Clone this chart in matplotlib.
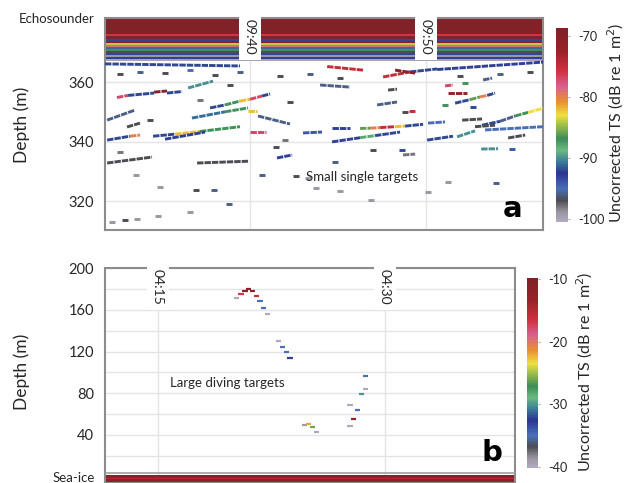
import matplotlib.pyplot as plt
from matplotlib.collections import LineCollection
from matplotlib.colors import LinearSegmentedColormap, Normalize
from matplotlib.cm import ScalarMappable

plt.rcParams['font.family'] = ['Lato', 'DejaVu Sans']
plt.rcParams['axes.unicode_minus'] = False

# echogram colour scale, low TS -> high TS
ts_stops = [0.0, 0.05, 0.11, 0.17, 0.25, 0.31, 0.37, 0.43, 0.50, 0.55, 0.62, 0.70, 0.78, 0.88, 1.0]
ts_colors = ['#b2a8c4', '#9a96a0', '#4c4c52', '#4a70b8', '#2c3490', '#3a7c9a', '#6cb880',
             '#3c8c58', '#a0c048', '#f0e040', '#e89030', '#d86090', '#d03040', '#9a2228', '#7e2228']

# ---- panel a: small single targets (time = minutes after 09:00, depth in m)
a_time_ticks = [40, 50]
a_time_labels = ['09:40', '09:50']
a_depth_ticks = [320, 340, 360]

# near-surface echosounder band: layer edges (m) and TS of each layer
band_edges = [382, 376, 375.3, 374.6, 373.9, 373.2, 372.5, 371.8, 371.1, 370.4, 369.7, 369.0, 368.3, 367.6, 366.9]
band_ts = [-69, -76, -69, -92, -71, -84, -79, -91, -87, -97, -92, -99, -93, -100]

# target tracks: start time/depth, end time/depth, TS
trk_t0 = [32.44, 33.07, 34.55, 35.28, 31.88, 33.01, 31.88, 33.18, 34.49, 35.74, 37.16, 35.17,
          36.70, 38.58, 39.89, 37.73, 38.58, 39.43, 40.00, 40.68, 31.88, 36.99, 41.53, 36.48,
          40.45, 40.00, 43.01, 44.66, 44.66, 46.25, 47.10, 46.25, 46.82, 47.39, 48.24, 48.81,
          44.38, 47.56, 49.09, 48.24, 47.22, 51.65, 52.50, 53.07, 53.47, 51.25, 51.08, 53.18,
          54.20, 55.06, 55.80, 53.35, 51.76, 50.06, 50.11, 52.05, 52.78, 53.13, 48.69, 54.66,
          53.24, 43.98, 47.84, 31.76, 50.63]
trk_d0 = [354.8, 355.5, 356.6, 356.3, 347.2, 344.9, 340.5, 341.8, 341.8, 342.5, 343.4, 340.8,
          347.9, 350.0, 350.4, 351.3, 352.3, 353.6, 354.2, 355.3, 332.8, 332.8, 334.5, 358.0,
          348.6, 343.2, 342.9, 344.5, 339.9, 341.3, 342.0, 344.4, 344.5, 344.7, 345.0, 345.2,
          365.2, 361.7, 363.4, 364.0, 352.3, 352.9, 354.1, 355.0, 355.5, 356.3, 358.7, 345.5,
          346.8, 348.6, 349.8, 343.9, 341.6, 340.5, 346.2, 347.2, 345.0, 337.5, 335.5, 341.2,
          360.7, 359.0, 357.3, 366.1, 364.2]
trk_t1 = [33.07, 34.55, 35.28, 36.14, 33.47, 33.75, 33.18, 33.75, 35.74, 37.16, 39.43, 37.44,
          38.58, 39.89, 40.40, 38.58, 39.43, 40.00, 40.68, 41.14, 34.43, 39.89, 42.39, 37.90,
          42.27, 40.91, 44.09, 45.68, 46.25, 47.10, 48.52, 46.82, 47.39, 48.24, 48.81, 49.83,
          46.42, 49.09, 50.63, 49.38, 48.35, 52.50, 53.07, 53.47, 53.92, 52.33, 51.53, 54.20,
          55.06, 55.80, 56.65, 56.65, 52.78, 51.53, 51.08, 53.18, 53.92, 54.09, 49.38, 55.63,
          53.75, 45.68, 48.35, 39.43, 56.65]
trk_d1 = [355.5, 356.3, 357.0, 356.8, 350.6, 346.2, 341.8, 342.2, 342.5, 343.4, 345.0, 343.2,
          350.0, 351.3, 350.4, 352.3, 353.6, 354.2, 355.3, 356.0, 334.8, 333.4, 335.5, 360.3,
          345.9, 343.2, 343.2, 344.5, 341.3, 342.0, 343.2, 344.5, 344.7, 345.0, 345.2, 345.8,
          364.0, 363.4, 364.4, 363.0, 353.3, 354.1, 355.0, 355.5, 356.3, 356.3, 359.0, 346.8,
          348.6, 349.8, 351.2, 345.0, 343.6, 341.8, 346.6, 347.6, 345.5, 337.6, 335.8, 342.2,
          361.3, 358.3, 357.6, 365.4, 366.7]
trk_ts = [-77, -92, -70, -92, -96, -97, -92, -80, -92, -82, -87, -93,
          -91, -87, -82, -92, -87, -82, -77, -92, -97, -97, -93, -90,
          -96, -77, -94, -93, -93, -88, -92, -86, -80, -75, -82, -92,
          -75, -75, -92, -70, -96, -92, -86, -80, -92, -72, -77, -92,
          -96, -87, -83, -95, -90, -92, -95, -97, -97, -90, -98, -97,
          -96, -96, -97, -92, -93]

# isolated single pings
ping_t = [49.20, 48.81, 52.22, 51.08, 52.67, 48.64, 54.89, 46.99, 32.16, 32.90, 33.58, 34.77,
          36.59, 36.93, 37.95, 38.81, 40.68, 42.61, 43.30, 43.75, 44.83, 45.11, 46.88, 50.11,
          51.25, 53.98, 41.48, 41.99, 33.52, 34.89, 32.61, 34.32, 37.16, 38.86, 42.27, 32.61,
          33.75, 35.17, 36.59, 38.01, 39.43, 41.70, 43.41, 45.11, 51.93, 54.20, 55.91]
ping_d = [350.35, 350.0, 359.8, 352.3, 351.7, 337.1, 337.5, 337.1, 312.9, 313.6, 313.9, 315.0,
          316.3, 323.7, 323.7, 319.0, 328.7, 328.4, 327.7, 324.4, 333.1, 323.4, 320.3, 323.0,
          326.4, 326.1, 338.2, 340.5, 328.7, 324.7, 336.5, 347.2, 354.0, 359.0, 353.3, 362.7,
          363.4, 363.0, 364.0, 362.4, 363.4, 362.0, 362.7, 361.3, 362.0, 362.7, 363.4]
ping_ts = [-75, -97, -87, -87, -92, -92, -94, -97, -99, -97, -99, -99,
           -99, -97, -96, -96, -96, -97, -99, -99, -96, -99, -99, -99,
           -99, -96, -97, -98, -99, -99, -98, -97, -98, -97, -97, -97,
           -96, -97, -95, -97, -96, -97, -96, -97, -97, -96, -97]

# ---- panel b: large diving targets (time = minutes after 04:00)
b_time_ticks = [15, 30]
b_time_labels = ['04:15', '04:30']
b_depth_ticks = [40, 80, 120, 160, 200]
b_grid_depths = [20, 40, 60, 80, 100, 120, 140, 160, 180]

b_t = [20.20, 20.49, 20.75, 21.00, 21.23, 21.50, 21.74, 21.96, 22.22, 22.98, 23.22, 23.48,
       23.72, 24.70, 24.96, 25.22, 25.46, 27.69, 27.94, 28.20, 27.69, 28.46, 28.70, 28.70]
b_d = [171.0, 174.8, 178.3, 179.9, 178.0, 173.2, 168.4, 162.0, 155.7, 130.1, 124.3, 119.5,
       113.5, 49.9, 50.9, 47.7, 42.9, 48.4, 55.7, 64.0, 68.5, 79.0, 84.1, 96.8]
b_ts = [-40, -17, -12, -11, -13, -16, -35, -35, -40, -40, -35, -35,
        -33, -39, -22, -26, -40, -40, -12, -35, -40, -30, -40, -35]

# sea-ice echo band at the bottom
ice_edges = [2.0, 0.5, -1.0, -2.5, -4.0, -6.0]
ice_ts = [-10, -12, -15, -11, -13]

cmap = LinearSegmentedColormap.from_list('ts', list(zip(ts_stops, ts_colors)))
norm_a = Normalize(vmin=-100.5, vmax=-68.7)
norm_b = Normalize(vmin=-40.2, vmax=-9.8)

spine_col = '#8c8c8c'
grid_col = '#e4e4e4'
text_col = '#262626'


def style_axes(ax):
    for sp in ax.spines.values():
        sp.set_color(spine_col)
        sp.set_linewidth(1.5)
    ax.tick_params(axis='x', length=0, labelbottom=False)
    ax.tick_params(axis='y', length=0, labelsize=10.5, labelcolor=text_col, pad=8)
    ax.set_axisbelow(True)


def time_labels(ax, ticks, labels):
    for t, lab in zip(ticks, labels):
        ax.text(t, 0.995, lab, transform=ax.get_xaxis_transform(), rotation=270,
                ha='center', va='top', fontsize=10, color=text_col, zorder=6,
                bbox=dict(boxstyle='square,pad=0.35', fc='white', ec='none'))


fig = plt.figure(figsize=(6.25, 4.83), dpi=100)

# ---------------- panel a
ax_a = fig.add_axes([0.168, 0.5238, 0.701, 0.4389])
style_axes(ax_a)
ax_a.set_xlim(31.76, 56.65)
ax_a.set_ylim(310.3, 381.5)
ax_a.set_yticks(a_depth_ticks)
ax_a.set_xticks(a_time_ticks)
ax_a.grid(True, color=grid_col, lw=1)

ax_a.pcolormesh([31.76, 56.65], band_edges, [[v] for v in band_ts],
                cmap=cmap, norm=norm_a, zorder=2)

segs = [[(t0, d0), (t1, d1)] for t0, d0, t1, d1 in zip(trk_t0, trk_d0, trk_t1, trk_d1)]
lc = LineCollection(segs, cmap=cmap, norm=norm_a, linewidths=2.1, capstyle='butt',
                    linestyles=[(0, (2.2, 0.35))], zorder=3)
lc.set_array(trk_ts)
ax_a.add_collection(lc)

ax_a.scatter(ping_t, ping_d, c=ping_ts, cmap=cmap, norm=norm_a, marker='_',
             s=20, linewidths=2.1, zorder=3)

time_labels(ax_a, a_time_ticks, a_time_labels)
ax_a.text(46.36, 328.1, 'Small single targets', ha='center', va='center',
          fontsize=9.5, color=text_col, zorder=5)
ax_a.text(0.952, 0.035, 'a', transform=ax_a.transAxes, ha='right', va='bottom',
          fontsize=21, fontweight='bold', family='DejaVu Sans', color='black')

cax_a = fig.add_axes([0.8896, 0.5404, 0.0192, 0.4017])
cb_a = fig.colorbar(ScalarMappable(norm=norm_a, cmap=cmap), cax=cax_a, ticks=[-70, -80, -90, -100])
cb_a.outline.set_visible(False)
cax_a.tick_params(length=1.5, width=0.6, colors='#909090', labelsize=9, labelcolor=text_col, pad=6)

# ---------------- panel b
ax_b = fig.add_axes([0.168, 0.0, 0.656, 0.4451])
style_axes(ax_b)
ax_b.set_xlim(11.50, 38.59)
ax_b.set_ylim(-6.0, 200)
ax_b.set_yticks(b_depth_ticks)
ax_b.set_yticks(b_grid_depths, minor=True)
ax_b.tick_params(axis='y', which='minor', length=0)
ax_b.set_xticks(b_time_ticks)
ax_b.grid(True, which='both', color=grid_col, lw=1)

ax_b.pcolormesh([11.50, 38.59], ice_edges, [[v] for v in ice_ts],
                cmap=cmap, norm=norm_b, zorder=2)
ax_b.axhline(3.6, color='#a0a0a0', lw=1.2, zorder=3)

ax_b.scatter(b_t, b_d, c=b_ts, cmap=cmap, norm=norm_b, marker='_',
             s=14, linewidths=1.6, zorder=3)

time_labels(ax_b, b_time_ticks, b_time_labels)
ax_b.text(15.79, 89.8, 'Large diving targets', ha='left', va='center',
          fontsize=9.5, color=text_col, zorder=5)
ax_b.text(0.968, 0.075, 'b', transform=ax_b.transAxes, ha='right', va='bottom',
          fontsize=21, fontweight='bold', family='DejaVu Sans', color='black')

cax_b = fig.add_axes([0.8432, 0.0311, 0.0176, 0.3934])
cb_b = fig.colorbar(ScalarMappable(norm=norm_b, cmap=cmap), cax=cax_b, ticks=[-10, -20, -30, -40])
cb_b.outline.set_visible(False)
cax_b.tick_params(length=1.5, width=0.6, colors='#909090', labelsize=9, labelcolor=text_col, pad=6)

# ---------------- figure texts
fig.text(0.035, 0.741, 'Depth (m)', rotation=90, ha='center', va='center', fontsize=12.5, color=text_col)
fig.text(0.035, 0.23, 'Depth (m)', rotation=90, ha='center', va='center', fontsize=12.5, color=text_col)
fig.text(0.152, 0.961, 'Echosounder', ha='right', va='center', fontsize=9.5, color=text_col)
fig.text(0.152, 0.010, 'Sea-ice', ha='right', va='center', fontsize=9.5, color=text_col)
fig.text(0.986, 0.745, 'Uncorrected TS (dB re 1 m$^2$)', rotation=90, ha='center', va='center',
         fontsize=11.5, color=text_col)
fig.text(0.936, 0.23, 'Uncorrected TS (dB re 1 m$^2$)', rotation=90, ha='center', va='center',
         fontsize=11.5, color=text_col)

fig.savefig('out.png', dpi=100)
